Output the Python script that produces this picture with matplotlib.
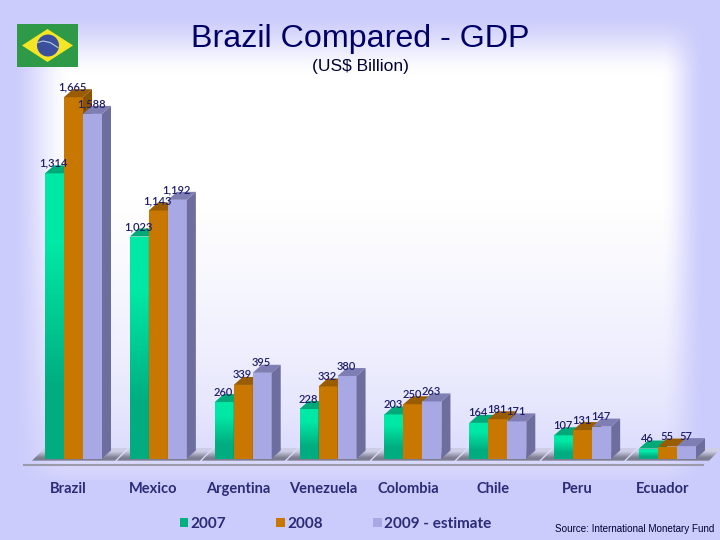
import numpy as np
import matplotlib
matplotlib.use('Agg')
import matplotlib.pyplot as plt
from matplotlib.patches import Polygon, Circle

countries = ['Brazil', 'Mexico', 'Argentina', 'Venezuela', 'Colombia', 'Chile', 'Peru', 'Ecuador']
gdp_2007 = [1314, 1023, 260, 228, 203, 164, 107, 46]
gdp_2008 = [1665, 1143, 339, 332, 250, 181, 131, 55]
gdp_2009 = [1588, 1192, 395, 380, 263, 171, 147, 57]
series_names = ['2007', '2008', '2009 - estimate']

W, H = 720, 540
navy = '#2b2b78'
label_font = ['Lato', 'DejaVu Sans']

# pixel scale of the chart (x: one unit per country, y: one unit per US$ billion)
px_x = 84.86
px_y = 0.217
bar_w = 19 / px_x
dx = 9 / px_x
dy = 8 / px_y


def smooth(t):
    t = np.clip(t, 0, 1)
    return t * t * (3 - 2 * t)


fig = plt.figure(figsize=(7.2, 5.4), dpi=100)

# background: lavender edges fading to white in the middle
bg = fig.add_axes([0, 0, 1, 1], zorder=0)
yy, xx = np.mgrid[0:H, 0:W]
fade = (smooth((xx - 10) / 60)
        * smooth((yy - 12) / 65)
        * smooth((705 - xx) / 45)
        * np.clip((480 - yy) / 280, 0, 1) ** 0.5)
edge = np.array([204, 204, 252]) / 255
img = edge[None, None, :] + (1 - edge)[None, None, :] * fade[:, :, None]
bg.imshow(img, extent=[0, W, H, 0], aspect='auto')
bg.axis('off')

ax = fig.add_axes([0, 0, 1, 1], zorder=1)
ax.patch.set_alpha(0)
ax.axis('off')
xlim = (-73.5 / px_x, (W - 73.5) / px_x)
ylim = ((458.5 - H) / px_y, 458.5 / px_y)

front = ['#00b080', '#c87800', '#a8a8e4']
top_col = ['#00aa78', '#9a5c00', '#7e7eb4']
side_col = ['#00805a', '#8b5500', '#6e6e9e']
series = [gdp_2007, gdp_2008, gdp_2009]
x = np.arange(len(countries))
green_ramp = np.array([[[0, 172, 128]], [[0, 232, 165]]], dtype=np.uint8)
shadow_ramp = np.array([[[125, 125, 145]], [[205, 205, 230]]], dtype=np.uint8)

# floor shadows
sx = 13 / px_x
sy = 13 / px_y
for i in x:
    x0 = i - 1.5 * bar_w
    shadow = Polygon([[x0 - sx, -10], [x0, sy - 10], [x0 + 83 / px_x, sy - 10], [x0 + 70 / px_x, -10]],
                     closed=True, fc='none', ec='none')
    ax.add_patch(shadow)
    im = ax.imshow(shadow_ramp, extent=[x0 - sx, x0 + 83 / px_x, -10, sy - 10], origin='lower',
                   aspect='auto', zorder=1, interpolation='bilinear')
    im.set_clip_path(shadow)

# bars, left to right so each one overlaps the one before
handles = []
for s, values in enumerate(series):
    pos = x + (s - 1) * bar_w
    bars = ax.bar(pos, values, bar_w, color=front[s], label=series_names[s], zorder=2 + s * 3, linewidth=0)
    handles.append(bars)
    for p, v in zip(pos, values):
        r = p + bar_w / 2
        l = p - bar_w / 2
        ax.add_patch(Polygon([[l, v], [r, v], [r + dx, v + dy], [l + dx, v + dy]],
                             closed=True, fc=top_col[s], ec='none', zorder=3 + s * 3))
        ax.add_patch(Polygon([[r, 0], [r + dx, dy], [r + dx, v + dy], [r, v]],
                             closed=True, fc=side_col[s], ec='none', zorder=3 + s * 3))
        if s == 0:
            # green front goes from dark at the floor to bright at the top
            ax.imshow(green_ramp, extent=[l, r, 0, v], origin='lower', aspect='auto',
                      zorder=2.5, interpolation='bilinear')
        ax.text(p - 0.01, v + 10 / px_y, f'{v:,}', ha='center', va='center', fontsize=8,
                color='#1e1e68', family=label_font, fontweight='semibold', zorder=20)

# floor line and category labels
ax.plot([(24 - 73.5) / px_x, (703 - 73.5) / px_x], [-31, -31], color='#9a9aa8', lw=1.5, zorder=1)
for i, name in zip(x, countries):
    ax.text(i - 0.06, -140, name, ha='center', va='center', fontsize=10.5, fontweight='bold',
            color=navy, family=label_font)

ax.set_xlim(*xlim)
ax.set_ylim(*ylim)

ax.legend(handles=handles, ncol=3, frameon=False, loc='center left',
          bbox_to_anchor=(166 / W, 1 - 524 / H), handlelength=0.55, handleheight=0.55,
          handletextpad=0.15, columnspacing=3.3, labelcolor=navy,
          prop={'family': label_font, 'weight': 'bold', 'size': 11})

# titles
fig.text(360 / W, 1 - 38.5 / H, 'Brazil Compared - GDP', ha='center', va='center', fontsize=23.2,
         color='#000066', family='Liberation Sans')
fig.text(360 / W, 1 - 67 / H, '(US$ Billion)', ha='center', va='center', fontsize=12.5,
         color='#000033', family='Liberation Sans')
fig.text(714 / W, 1 - 529 / H, 'Source: International Monetary Fund', ha='right', va='center', fontsize=7.1,
         color='#000033', family='Liberation Sans')

# flag
flag = fig.add_axes([17 / W, 1 - 67 / H, 61 / W, 43 / H], zorder=2)
flag.set_xlim(0, 61)
flag.set_ylim(0, 43)
flag.axis('off')
flag.add_patch(Polygon([[0, 0], [61, 0], [61, 43], [0, 43]], closed=True, fc='#2e9a48', ec='none'))
flag.add_patch(Polygon([[5, 21.5], [30.5, 38], [56, 21.5], [30.5, 5]], closed=True, fc='#f5e625', ec='none'))
flag.add_patch(Circle((31, 21.5), 11, fc='#3a4f9e', ec='none'))
flag.plot([21, 26, 33, 41], [24.5, 26, 24.5, 19.5], color='#b8d0d8', lw=0.8)

fig.savefig('out.png', dpi=100)
